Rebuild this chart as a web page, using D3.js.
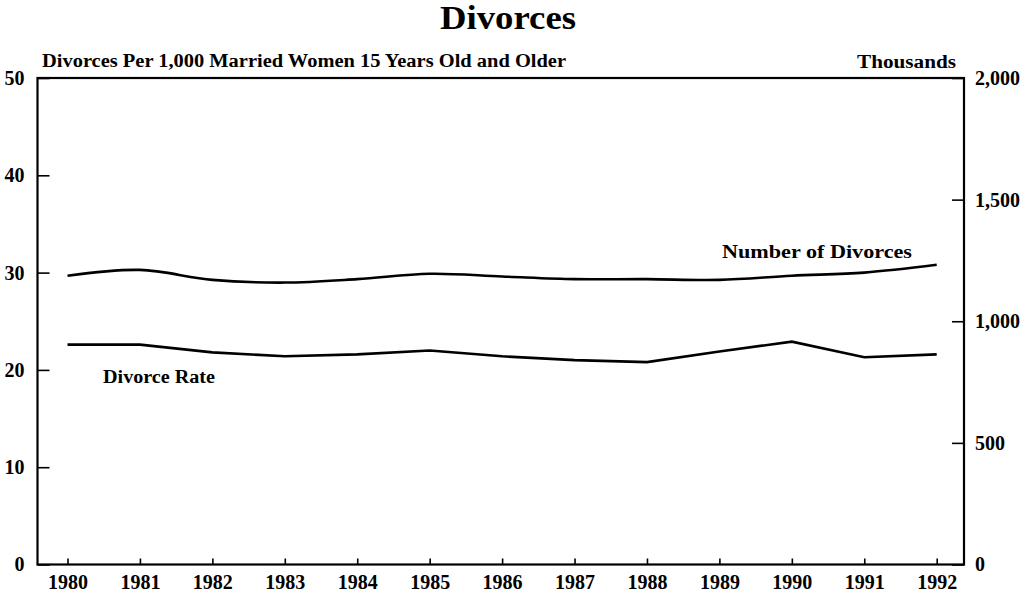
<!DOCTYPE html>
<html>
<head>
<meta charset="utf-8">
<script src="https://cdn.jsdelivr.net/npm/d3@7"></script>
<style>
  html, body { margin: 0; padding: 0; background: #fff; }
  svg { display: block; }
  text { font-family: "Liberation Serif", "Times New Roman", serif; font-weight: bold; fill: #000; }
</style>
</head>
<body>
<svg id="chart" width="1026" height="594"></svg>
<script>
const years = [1980, 1981, 1982, 1983, 1984, 1985, 1986, 1987, 1988, 1989, 1990, 1991, 1992];
const divorceRate = [22.6, 22.6, 21.8, 21.4, 21.6, 22.0, 21.4, 21.0, 20.8, 21.9, 22.9, 21.3, 21.6];
const numberOfDivorces = [1187, 1211, 1170, 1159, 1173, 1195, 1184, 1173, 1173, 1170, 1187, 1200, 1232];
const leftTicks = [0, 10, 20, 30, 40, 50];
const rightTicks = [0, 500, 1000, 1500, 2000];
const rightTickLabels = ["0", "500", "1,000", "1,500", "2,000"];

const svg = d3.select("#chart");
const L = 37.5, R = 964, T = 78, B = 564.5;

const x = d3.scaleLinear().domain([1980, 1992]).range([67.5, 936.7]);
const yL = d3.scaleLinear().domain([0, 50]).range([B, T]);
const yR = d3.scaleLinear().domain([0, 2000]).range([B, T]);

// Title
svg.append("text").attr("x", 508).attr("y", 29).attr("text-anchor", "middle")
  .attr("textLength", 136).attr("lengthAdjust", "spacingAndGlyphs")
  .style("font-size", "33px").text("Divorces");

// Axis captions
svg.append("text").attr("x", 42).attr("y", 67)
  .attr("textLength", 524).attr("lengthAdjust", "spacingAndGlyphs")
  .style("font-size", "18px").text("Divorces Per 1,000 Married Women 15 Years Old and Older");
svg.append("text").attr("x", 857).attr("y", 68)
  .attr("textLength", 99).attr("lengthAdjust", "spacingAndGlyphs")
  .style("font-size", "18px").text("Thousands");

// Axes
const axL = svg.append("g").attr("transform", `translate(${L},0)`)
  .call(d3.axisLeft(yL).tickValues(leftTicks).tickSizeInner(-12).tickSizeOuter(0).tickPadding(13));
const axR = svg.append("g").attr("transform", `translate(${R},0)`)
  .call(d3.axisRight(yR).tickValues(rightTicks).tickFormat((d, i) => rightTickLabels[i])
    .tickSizeInner(-12).tickSizeOuter(0).tickPadding(11));
const axB = svg.append("g").attr("transform", `translate(0,${B})`)
  .call(d3.axisBottom(x).tickValues(years).tickFormat(d3.format("d"))
    .tickSizeInner(-6).tickSizeOuter(0).tickPadding(10));

[axL, axR, axB].forEach(g => {
  g.select(".domain").remove();
  g.selectAll(".tick line").attr("stroke", "#000").attr("stroke-width", 1.6);
  g.selectAll(".tick text").style("font-size", "20px").attr("fill", "#000")
    .style("font-family", "'Liberation Serif', serif").style("font-weight", "bold");
});

// Frame
svg.append("rect").attr("x", L).attr("y", T).attr("width", R - L).attr("height", B - T)
  .attr("fill", "none").attr("stroke", "#000").attr("stroke-width", 2.2);

// Lines
const lineNum = d3.line().x((d, i) => x(years[i])).y(d => yR(d)).curve(d3.curveCatmullRom.alpha(0.5));
const lineRate = d3.line().x((d, i) => x(years[i])).y(d => yL(d)).curve(d3.curveLinear);

svg.append("path").datum(numberOfDivorces).attr("d", lineNum)
  .attr("fill", "none").attr("stroke", "#000").attr("stroke-width", 2.6);
svg.append("path").datum(divorceRate).attr("d", lineRate)
  .attr("fill", "none").attr("stroke", "#000").attr("stroke-width", 2.6);

// Series labels
svg.append("text").attr("x", 722).attr("y", 258)
  .attr("textLength", 190).attr("lengthAdjust", "spacingAndGlyphs")
  .style("font-size", "18px").text("Number of Divorces");
svg.append("text").attr("x", 103).attr("y", 383)
  .attr("textLength", 112).attr("lengthAdjust", "spacingAndGlyphs")
  .style("font-size", "18px").text("Divorce Rate");
</script>
</body>
</html>
